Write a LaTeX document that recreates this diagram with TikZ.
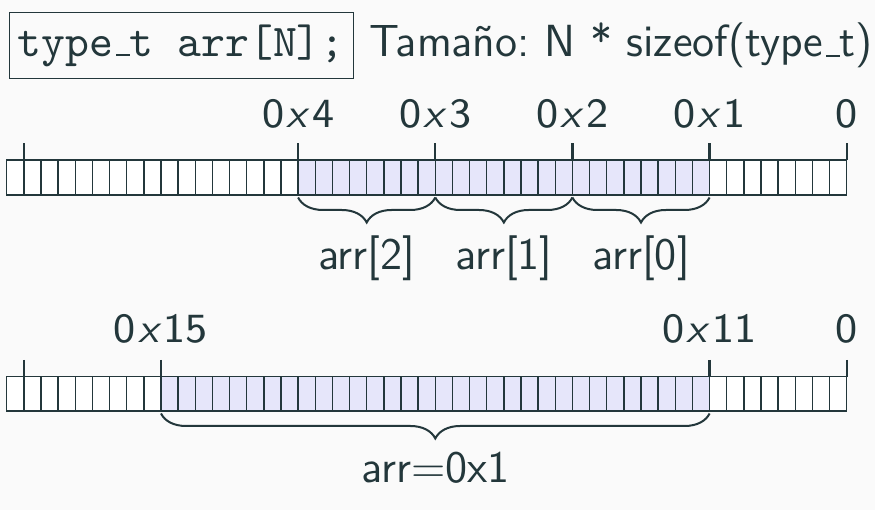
\documentclass[tikz,border=0pt]{standalone}
\usepackage{fontspec}
\usetikzlibrary{decorations.pathreplacing}
\newfontfamily\hdfont{lmsans12-regular.otf}
\newfontfamily\tkfont{lmsans8-regular.otf}[ItalicFont=lmsans8-oblique.otf]
\newfontfamily\ttfnt{lmmono10-regular.otf}
\newcommand\myus{\kern.06em\vbox{\hrule height .8pt width .3em}}
\newcommand\hx{\kern0.9pt\textit{x}\kern0.9pt}
\definecolor{dk}{HTML}{23373B}
\definecolor{bg}{HTML}{FAFAFA}
\definecolor{lav}{HTML}{E6E6FA}
\frenchspacing
\begin{document}
\begin{tikzpicture}[x=0.4pt,y=-0.4pt,
  every node/.style={text=dk, inner sep=0pt, font=\hdfont\fontsize{18}{22}\selectfont},
  cellline/.style={draw=dk, line width=0.55pt},
  tickline/.style={draw=dk, line width=0.9pt},
  brc/.style={draw=dk, line width=0.8pt, decorate, decoration={brace, mirror, amplitude=10pt, raise=1pt}},
  addr/.style={font=\tkfont\fontsize{16.6}{20}\selectfont, anchor=base},
  lbl/.style={anchor=base}]
\fill[bg] (0,0) rectangle (875,510);
\useasboundingbox (0,0) rectangle (875,510);
% header
\node[draw=dk, line width=0.55pt, minimum width=137.6pt, minimum height=26.6pt,
  font=\ttfnt\fontsize{18.2}{22}\selectfont] (decl) at (181.3,45.5) {type\myus t arr[N];};
\node[anchor=base west] (size) at (369,57) {Tamaño: N * sizeof(type\myus t)};
% row 1 cells
\fill[white] (6.7,160) rectangle (846.7,195);
\fill[lav] (298.1,160) rectangle (709.6,195);
\foreach \k in {1,...,48}{
  \pgfmathsetmacro\xx{846.7-17.143*\k}
  \draw[cellline] (\xx,160) -- (\xx,195);
}
\draw[cellline] (6.7,160) rectangle (846.7,195);
% row 2 cells
\fill[white] (6.7,376.7) rectangle (846.7,411);
\fill[lav] (161.0,376.7) rectangle (709.6,411);
\foreach \k in {1,...,48}{
  \pgfmathsetmacro\xx{846.7-17.143*\k}
  \draw[cellline] (\xx,376.7) -- (\xx,411);
}
\draw[cellline] (6.7,376.7) rectangle (846.7,411);
% row 1 ticks
\foreach \n/\xx in {e/23.8, a4/298.1, a3/435.3, a2/572.4, a1/709.6, a0/846.7}{
  \coordinate (u\n) at (\xx,143.3);
  \coordinate (v\n) at (\xx,160);
  \coordinate (w\n) at (\xx,195);
  \draw[tickline] (u\n) -- (v\n);
}
\node[addr] (l4) at (298.1,128) {0\hx 4};
\node[addr] (l3) at (435.3,128) {0\hx 3};
\node[addr] (l2) at (572.4,128) {0\hx 2};
\node[addr] (l1) at (709.6,128) {0\hx 1};
\node[addr] (l0) at (846.7,128) {0};
\draw[brc] (wa4) -- (wa3);
\draw[brc] (wa3) -- (wa2);
\draw[brc] (wa2) -- (wa1);
\node[lbl] (r2) at (366.7,270) {arr[2]};
\node[lbl] (r1) at (503.9,270) {arr[1]};
\node[lbl] (r0) at (641.0,270) {arr[0]};
% row 2 ticks
\foreach \n/\xx in {e/23.8, b15/161.0, b11/709.6, b0/846.7}{
  \coordinate (p\n) at (\xx,360);
  \coordinate (q\n) at (\xx,376.7);
  \coordinate (s\n) at (\xx,411);
  \draw[tickline] (p\n) -- (q\n);
}
\node[addr] (m15) at (161.0,343) {0\hx 15};
\node[addr] (m11) at (709.6,343) {0\hx 11};
\node[addr] (m0) at (846.7,343) {0};
\draw[brc] (sb15) -- (sb11);
\node[lbl] (rr) at (435.3,483) {arr=0x1};
\end{tikzpicture}
\end{document}
